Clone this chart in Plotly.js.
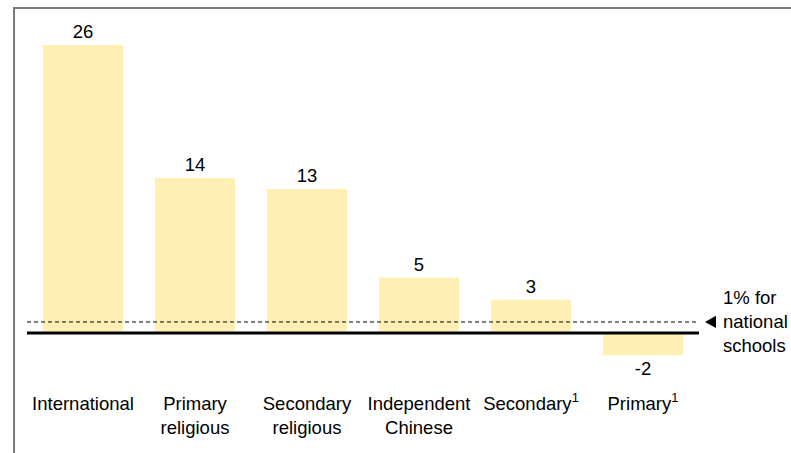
<!DOCTYPE html>
<html><head><meta charset="utf-8">
<script src="https://cdn.plot.ly/plotly-3.0.1.min.js"></script>
<style>html,body{margin:0;padding:0;background:#fff}#chart{width:791px;height:453px}</style>
</head><body><div id="chart"></div>
<script>
const categories = ["International", "Primary<br>religious", "Secondary<br>religious", "Independent<br>Chinese", "Secondary<sup>1</sup>", "Primary<sup>1</sup>"];
const values = [26, 14, 13, 5, 3, -2];
const nationalRate = 1;
const nationalLabel = "1% for<br>national<br>schools";

const xs = categories.map((c, i) => i);
const font = {family: "Liberation Sans, Arial, sans-serif", size: 18.5, color: "#000"};

const traces = [
  {
    type: "bar", x: xs, y: values,
    marker: {color: "#FEF0B4"},
    text: values.map(String), textposition: "outside", cliponaxis: false,
    textfont: font, hoverinfo: "none"
  }
];

const layout = {
  width: 791, height: 453,
  margin: {l: 27, r: 92, t: 20, b: 63},
  paper_bgcolor: "#fff", plot_bgcolor: "rgba(0,0,0,0)",
  showlegend: false, bargap: 0.286,
  font: font,
  xaxis: {
    range: [-0.5, 5.5], tickvals: xs, ticktext: categories,
    showgrid: false, zeroline: false, showline: false, ticks: "",
    tickfont: font, fixedrange: true
  },
  yaxis: {range: [-5.14, 28.25], visible: false, fixedrange: true},
  shapes: [
    {type: "rect", xref: "paper", yref: "paper", x0: -0.0193, x1: 1.3, y0: -0.5, y1: 1.0324,
     line: {color: "#7a7a7a", width: 2}, layer: "below"},
    {type: "line", xref: "x", yref: "y", x0: -0.5, x1: 5.5, y0: 0, y1: 0,
     line: {color: "#000", width: 3}, layer: "above"},
    {type: "line", xref: "x", yref: "y", x0: -0.5, x1: 5.5, y0: nationalRate, y1: nationalRate,
     line: {color: "#000", width: 1, dash: "4px,3px"}, layer: "above"},
    {type: "path", xref: "paper", yref: "y",
     path: "M 1.0089 " + nationalRate + " L 1.0253 " + (nationalRate + 0.55) + " L 1.0253 " + (nationalRate - 0.55) + " Z",
     fillcolor: "#000", line: {color: "#000", width: 0}, layer: "above"}
  ],
  annotations: [
    {xref: "paper", yref: "y", x: 1.032, y: nationalRate, xanchor: "left", yanchor: "middle",
     text: nationalLabel, showarrow: false, align: "left", font: font}
  ]
};

Plotly.newPlot("chart", traces, layout, {displayModeBar: false, staticPlot: true});
</script></body></html>
